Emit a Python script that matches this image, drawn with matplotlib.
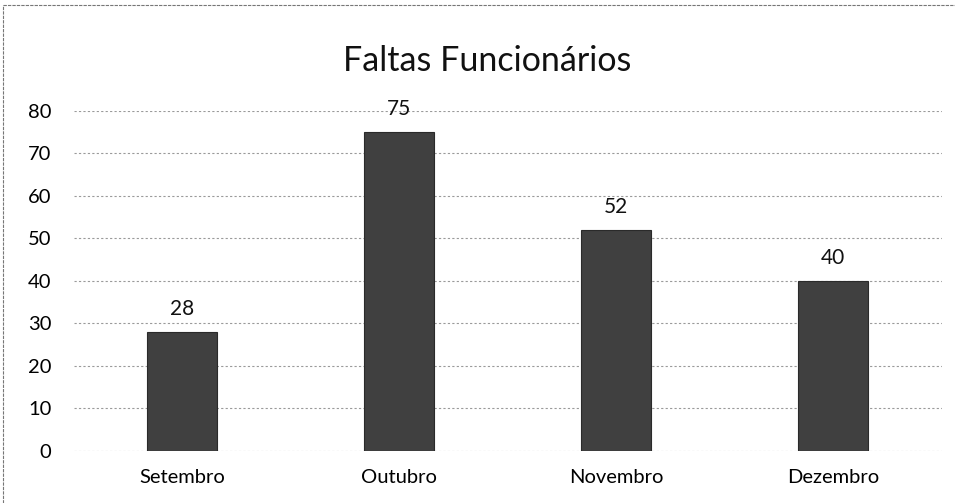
import matplotlib.pyplot as plt

meses = ['Setembro', 'Outubro', 'Novembro', 'Dezembro']
faltas = [28, 75, 52, 40]
y_ticks = [0, 10, 20, 30, 40, 50, 60, 70, 80]

plt.rcParams['font.family'] = ['Lato', 'DejaVu Sans']

fig = plt.figure(figsize=(9.55, 5.03), dpi=100)
ax = fig.add_axes([0.077, 0.1034, 0.909, 0.676])

x = range(len(meses))
bars = ax.bar(x, faltas, width=0.32, color='#404040', edgecolor='#2a2a2a', linewidth=0.8, zorder=3)
for xi, v in zip(x, faltas):
    ax.text(xi, v + 3.0, str(v), ha='center', va='bottom', fontsize=15, color='#111111')

ax.set_xlim(-0.5, len(meses) - 0.5)
ax.set_ylim(0, 80)
ax.set_yticks(y_ticks)
ax.set_xticks(list(x))
ax.set_xticklabels(meses, fontsize=14.5)
ax.tick_params(axis='y', labelsize=14.5, length=0, pad=16)
ax.tick_params(axis='x', length=0, pad=13)
ax.grid(axis='y', color='#9a9a9a', linestyle=(0, (2, 2)), linewidth=0.8, zorder=0)
for s in ax.spines.values():
    s.set_visible(False)

fig.text(0.51, 0.878, 'Faltas Funcionários', ha='center', va='center', fontsize=24.5, color='#111111')

# borda do gráfico (recortada)
fig.add_artist(plt.Line2D([0.003, 0.003], [0, 0.99], color='#777777', linewidth=0.8, linestyle=(0, (3, 1))))
fig.add_artist(plt.Line2D([0.003, 1], [0.99, 0.99], color='#777777', linewidth=0.8, linestyle=(0, (3, 1))))

fig.savefig('out.png', dpi=100)
